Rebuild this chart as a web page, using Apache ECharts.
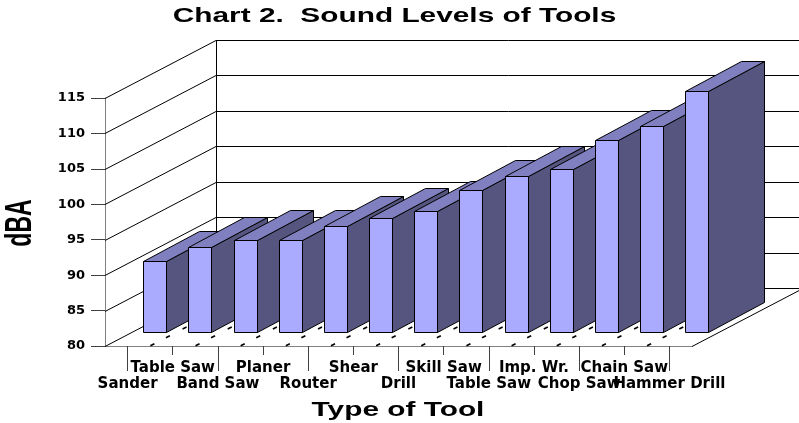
<!DOCTYPE html>
<html lang="en">
<head>
    <meta charset="UTF-8">
    <title>Chart 2. Sound Levels of Tools</title>
    <script src="https://cdn.jsdelivr.net/npm/echarts@6/dist/echarts.min.js"></script>
    <style>
        html, body { margin: 0; padding: 0; background: #fff; }
        #chart { width: 799px; height: 423px; }
    </style>
</head>
<body>
<div id="chart"></div>
<script>
    const tools = ['Sander', 'Table Saw', 'Band Saw', 'Planer', 'Router', 'Shear', 'Drill',
        'Skill Saw', 'Table Saw', 'Imp. Wr.', 'Chop Saw', 'Chain Saw', 'Hammer Drill'];
    const soundLevels = [90, 92, 93, 93, 95, 96, 97, 100, 102, 103, 107, 109, 114];
    const yTicks = [80, 85, 90, 95, 100, 105, 110, 115];

    // how far the back wall sits from the front plane, in pixels
    const DEPTH_X = 111;
    const DEPTH_Y = 58;
    const BAR_FRONT = 0.245;
    const BAR_BACK = 0.76;
    const BAR_WIDTH = 23;
    const DASH_DEPTHS = [0.02, 0.16, 0.31];

    const FRONT_COLOR = '#AAAAFF';
    const TOP_COLOR = '#8080C0';
    const SIDE_COLOR = '#555580';

    function crisp(v) {
        return Math.round(v) + 0.5;
    }

    function line(x1, y1, x2, y2, color) {
        return {
            type: 'line',
            shape: {x1: x1, y1: y1, x2: x2, y2: y2},
            style: {stroke: color || '#000', lineWidth: 1}
        };
    }

    function poly(points, fill) {
        return {
            type: 'polygon',
            shape: {points: points},
            style: {fill: fill, stroke: '#000', lineWidth: 1}
        };
    }

    // side walls and back wall, one set of lines per y tick
    function renderWall(params, api) {
        let p = api.coord([0, api.value(0)]);
        let y = crisp(p[1]);
        let left = params.coordSys.x;
        let right = left + params.coordSys.width;
        let children = [
            line(left, y, left + DEPTH_X, y - DEPTH_Y),
            line(crisp(left + DEPTH_X), y - DEPTH_Y, right + DEPTH_X, y - DEPTH_Y)
        ];
        if (params.dataIndex === 0) {
            let top = params.coordSys.y;
            children.push(line(crisp(left + DEPTH_X), top - DEPTH_Y, crisp(left + DEPTH_X), y - DEPTH_Y));
            children.push(line(right, y, right + DEPTH_X, y - DEPTH_Y));
        }
        return {type: 'group', children: children};
    }

    // little floor dashes on the band boundaries
    function renderDashes(params, api) {
        let p = api.coord([api.value(0), 80]);
        let band = api.size([1, 0])[0];
        let children = [];
        if (params.dataIndex === 0) return {type: 'group', children: children};
        DASH_DEPTHS.forEach(function (d) {
            let x = p[0] - band / 2 + d * DEPTH_X;
            let y = p[1] - d * DEPTH_Y;
            children.push({
                type: 'line',
                shape: {x1: x - 2, y1: y + 1, x2: x + 2, y2: y - 1},
                style: {stroke: '#000', lineWidth: 1.6}
            });
        });
        return {type: 'group', children: children};
    }

    function renderBar(params, api) {
        let cat = api.value(0);
        let base = api.coord([cat, 80]);
        let top = api.coord([cat, api.value(1)]);
        let fx = BAR_FRONT * DEPTH_X, fy = BAR_FRONT * DEPTH_Y;
        let bx = BAR_BACK * DEPTH_X, by = BAR_BACK * DEPTH_Y;
        let x0 = Math.round(base[0] - BAR_WIDTH / 2 + fx) + 0.5;
        let x1 = x0 + BAR_WIDTH;
        let dx = Math.round(bx - fx) - 1, dy = Math.round(by - fy);
        let yb = Math.round(base[1] - fy) + 0.5;
        let yt = Math.round(top[1] - fy) + 0.5;
        return {
            type: 'group',
            children: [
                poly([[x1, yt], [x1 + dx, yt - dy], [x1 + dx, yb - dy], [x1, yb]], SIDE_COLOR),
                poly([[x0, yt], [x0 + dx, yt - dy], [x1 + dx, yt - dy], [x1, yt]], TOP_COLOR),
                poly([[x0, yt], [x1, yt], [x1, yb], [x0, yb]], FRONT_COLOR)
            ]
        };
    }

    let myChart = echarts.init(document.getElementById('chart'), null, {renderer: 'canvas'});
    let option = {
        animation: false,
        graphic: [
            {
                type: 'text', x: 394.5, y: 16, scaleX: 1.42,
                style: {
                    text: 'Chart 2.  Sound Levels of Tools',
                    font: 'bold 21px "Liberation Sans"',
                    fill: '#000', align: 'center', verticalAlign: 'middle'
                }
            },
            {
                type: 'text', x: 398, y: 410, scaleX: 1.42,
                style: {
                    text: 'Type of Tool',
                    font: 'bold 21px "Liberation Sans"',
                    fill: '#000', align: 'center', verticalAlign: 'middle'
                }
            },
            {
                type: 'text', x: 21, y: 223, rotation: Math.PI / 2, scaleX: 0.64,
                style: {
                    text: 'dBA',
                    font: 'bold 36px "Liberation Sans"',
                    fill: '#000', align: 'center', verticalAlign: 'middle'
                }
            }
        ],
        grid: {left: 105, top: 98, width: 587, height: 248},
        xAxis: [
            {
                type: 'category',
                position: 'bottom',
                data: tools,
                axisLine: {lineStyle: {color: '#808080', width: 1}},
                axisTick: {
                    show: true,
                    alignWithLabel: true,
                    length: 25,
                    interval: function (i) { return i % 2 === 0; },
                    lineStyle: {color: '#404040'}
                },
                axisLabel: {
                    interval: 0,
                    margin: 14,
                    hideOverlap: false,
                    color: '#000',
                    fontFamily: 'DejaVu Sans',
                    fontWeight: 'bold',
                    fontSize: 15,
                    lineHeight: 16,
                    formatter: function (name, i) {
                        return i % 2 === 0 ? '\n' + name : name;
                    }
                }
            },
            {
                type: 'category',
                position: 'bottom',
                data: tools,
                axisLine: {show: false},
                axisTick: {
                    show: true,
                    alignWithLabel: true,
                    length: 9,
                    interval: function (i) { return i % 2 === 1; },
                    lineStyle: {color: '#404040'}
                },
                axisLabel: {show: false}
            }
        ],
        yAxis: {
            type: 'value',
            min: 80,
            max: 115,
            interval: 5,
            splitLine: {show: false},
            axisLine: {show: true, lineStyle: {color: '#808080', width: 1}},
            axisTick: {show: true, length: 14, lineStyle: {color: '#404040'}},
            axisLabel: {
                margin: 20,
                color: '#000',
                fontFamily: 'DejaVu Sans',
                fontWeight: 'bold',
                fontSize: 13
            }
        },
        series: [
            {
                type: 'custom',
                name: 'walls',
                z: 1,
                silent: true,
                renderItem: renderWall,
                encode: {x: -1, y: 0},
                data: yTicks.map(function (v) { return [v]; })
            },
            {
                type: 'custom',
                name: 'floor marks',
                z: 2,
                silent: true,
                renderItem: renderDashes,
                encode: {x: 0},
                data: tools.map(function (t, i) { return [i]; })
            },
            {
                type: 'custom',
                name: 'dBA',
                z: 3,
                renderItem: renderBar,
                encode: {x: 0, y: 1},
                data: soundLevels.map(function (v, i) { return [i, v]; })
            }
        ]
    };
    myChart.setOption(option);
</script>
</body>
</html>
